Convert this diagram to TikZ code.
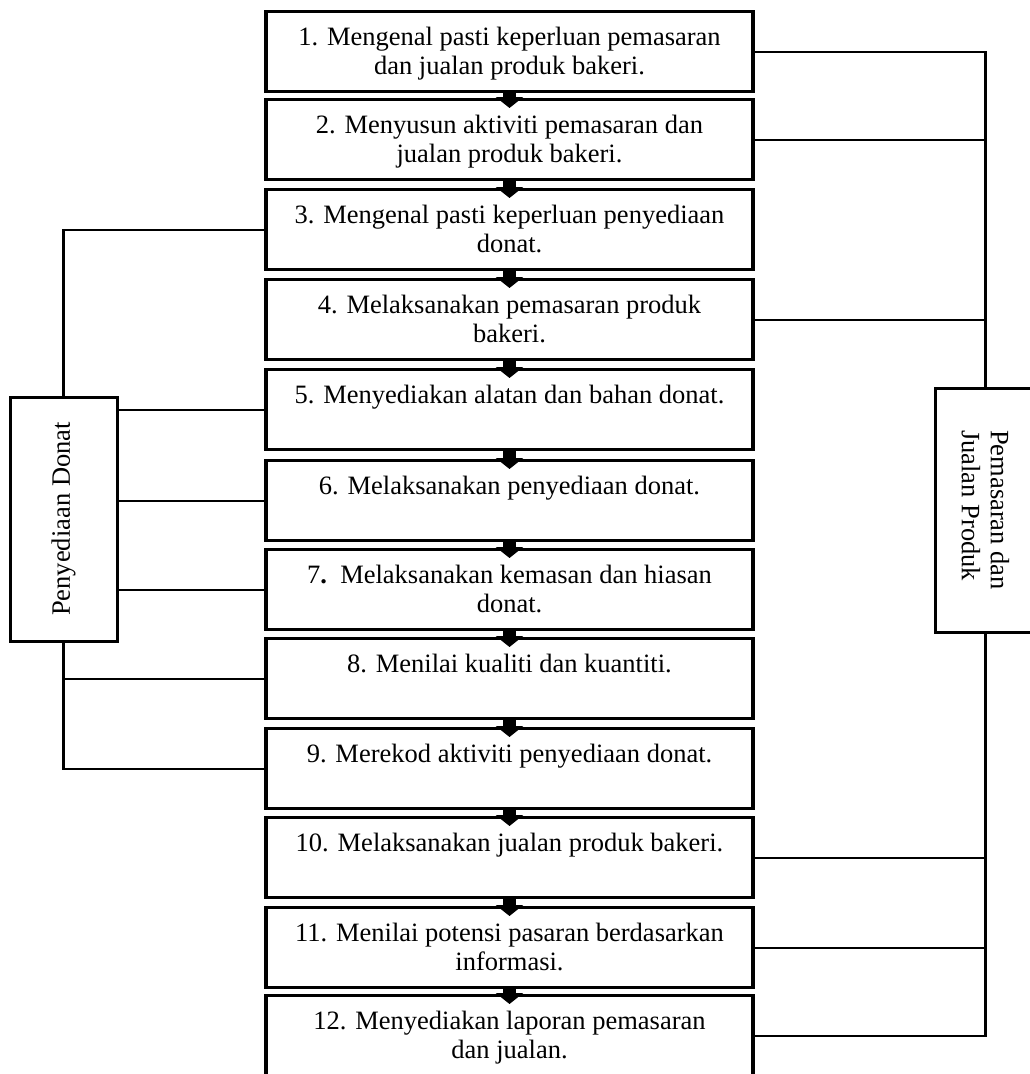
\documentclass[tikz,border=0pt]{standalone}
\usepackage{fontspec}
\setmainfont{Liberation Serif}
\usetikzlibrary{arrows.meta}

\newcommand{\steptext}[1]{\parbox[c][80pt][t]{480pt}{\centering\rule{0pt}{34pt}#1}}

\tikzset{
  stepbox/.style={draw, line width=3.2pt, anchor=north, inner sep=0pt,
    minimum width=487pt, minimum height=80pt,
    font=\fontsize{26.5}{29}\selectfont},
  sidebox/.style={draw, line width=3pt, inner sep=0pt,
    minimum width=244pt, font=\fontsize{26.5}{29}\selectfont},
  link/.style={line width=2.2pt},
  flowarrow/.style={line width=13pt, -{Triangle[width=27pt,length=11pt]}}
}

\begin{document}
\begin{tikzpicture}[x=1pt,y=-1pt]
  \useasboundingbox (0,0) rectangle (1029,1074);

  \begin{scope}[every node/.style=stepbox]
    \node (s1)  at (509.5,10)  {\steptext{1. Mengenal pasti keperluan pemasaran\\dan jualan produk bakeri.}};
    \node (s2)  at (509.5,98)  {\steptext{2. Menyusun aktiviti pemasaran dan\\jualan produk bakeri.}};
    \node (s3)  at (509.5,188) {\steptext{3. Mengenal pasti keperluan penyediaan\\donat.}};
    \node (s4)  at (509.5,278) {\steptext{4. Melaksanakan pemasaran produk\\bakeri.}};
    \node (s5)  at (509.5,368) {\steptext{5. Menyediakan alatan dan bahan donat.}};
    \node (s6)  at (509.5,459) {\steptext{6. Melaksanakan penyediaan donat.}};
    \node (s7)  at (509.5,548) {\steptext{7\textbf{.}\enspace Melaksanakan kemasan dan hiasan\\donat.}};
    \node (s8)  at (509.5,637) {\steptext{8. Menilai kualiti dan kuantiti.}};
    \node (s9)  at (509.5,727) {\steptext{9. Merekod aktiviti penyediaan donat.}};
    \node (s10) at (509.5,816) {\steptext{10. Melaksanakan jualan produk bakeri.}};
    \node (s11) at (509.5,906) {\steptext{11. Menilai potensi pasaran berdasarkan\\informasi.}};
    \node (s12) at (509.5,994) {\steptext{12. Menyediakan laporan pemasaran\\dan jualan.}};
  \end{scope}

  % side groups
  \node[sidebox, rotate=90, minimum height=107pt] (pd) at (63.5,519) {Penyediaan Donat};
  \node[sidebox, rotate=-90, align=left, minimum height=101pt] (pj) at (985.5,510) {Pemasaran dan\\Jualan Produk};

  % Penyediaan Donat
  \draw[link] (s3.west) -| (pd.east);
  \draw[link] (s5.west) -- (s5.west -| pd.south);
  \draw[link] (s6.west) -- (s6.west -| pd.south);
  \draw[link] (s7.west) -- (s7.west -| pd.south);
  \draw[link] (pd.west) |- (s9.west);
  \draw[link] (s8.west) -- (s8.west -| pd.west);

  % Pemasaran dan Jualan Produk
  \draw[link] (s1.east) -| (pj.west);
  \draw[link] (s2.east) -- (s2.east -| pj.west);
  \draw[link] (s4.east) -- (s4.east -| pj.west);
  \draw[link] (pj.east) |- (s12.east);
  \draw[link] (s10.east) -- (s10.east -| pj.east);
  \draw[link] (s11.east) -- (s11.east -| pj.east);

  \foreach \i [evaluate=\i as \j using int(\i+1)] in {1,...,11}
    \draw[flowarrow] (s\i.south) -- ([yshift=-10pt]s\j.north);
\end{tikzpicture}
\end{document}
